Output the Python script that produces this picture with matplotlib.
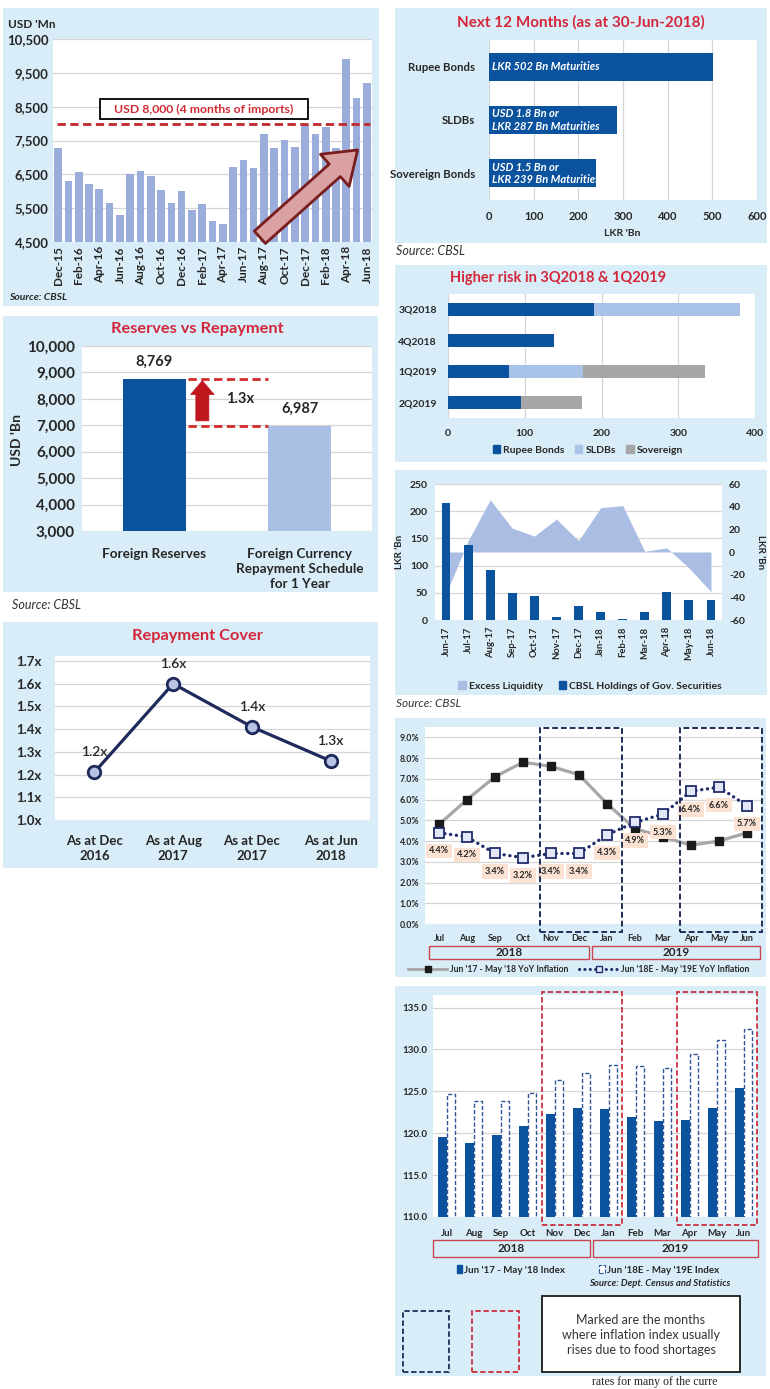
import matplotlib
matplotlib.use("Agg")
import matplotlib.pyplot as plt
import numpy as np
from matplotlib.patches import Rectangle, Patch
from matplotlib.lines import Line2D
from matplotlib.transforms import Bbox, TransformedBbox, blended_transform_factory

plt.rcParams["font.family"] = ["Lato", "DejaVu Sans"]

# ── Data ──────────────────────────────────────────────────────────────────────
res_months = ["Dec-15", "Jan-16", "Feb-16", "Mar-16", "Apr-16", "May-16", "Jun-16",
              "Jul-16", "Aug-16", "Sep-16", "Oct-16", "Nov-16", "Dec-16", "Jan-17",
              "Feb-17", "Mar-17", "Apr-17", "May-17", "Jun-17", "Jul-17", "Aug-17",
              "Sep-17", "Oct-17", "Nov-17", "Dec-17", "Jan-18", "Feb-18", "Mar-18",
              "Apr-18", "May-18", "Jun-18"]
res_values = [7290, 6290, 6570, 6220, 6060, 5640, 5290, 6500, 6600, 6450, 6050,
              5660, 6020, 5440, 5610, 5120, 5040, 6730, 6930, 6700, 7700, 7280,
              7510, 7310, 7960, 7680, 7900, 7290, 9910, 8770, 9190]
import_cover = 8000

mat_labels = ["Rupee Bonds", "SLDBs", "Sovereign Bonds"]
mat_values = [502, 287, 239]
mat_notes = ["LKR 502 Bn Maturities",
             "USD 1.8 Bn or\nLKR 287 Bn Maturities",
             "USD 1.5 Bn or\nLKR 239 Bn Maturities"]

qtr_labels = ["3Q2018", "4Q2018", "1Q2019", "2Q2019"]
qtr_rupee = [190, 138, 79, 95]
qtr_sldb = [190, 0, 97, 0]
qtr_sov = [0, 0, 159, 80]

liq_months = ["Jun-17", "Jul-17", "Aug-17", "Sep-17", "Oct-17", "Nov-17", "Dec-17",
              "Jan-18", "Feb-18", "Mar-18", "Apr-18", "May-18", "Jun-18"]
cbsl_holdings = [215, 137, 91, 50, 45, 6, 26, 15, 2.5, 15, 51, 36, 37]
excess_liq = [-37, 10, 46, 21, 14, 29, 10, 39, 41, 0.6, 3.6, -14, -35]

infl_months = ["Jul", "Aug", "Sep", "Oct", "Nov", "Dec", "Jan", "Feb", "Mar", "Apr", "May", "Jun"]
infl_actual = [4.8, 6.0, 7.1, 7.8, 7.6, 7.2, 5.8, 4.6, 4.2, 3.8, 4.0, 4.4]
infl_forecast = [4.4, 4.2, 3.4, 3.2, 3.4, 3.4, 4.3, 4.9, 5.3, 6.4, 6.6, 5.7]
index_actual = [119.5, 118.8, 119.8, 120.9, 122.3, 123.0, 122.9, 121.9, 121.5, 121.6, 123.0, 125.4]
index_forecast = [124.7, 123.9, 123.9, 124.8, 126.4, 127.2, 128.2, 128.0, 127.8, 129.4, 131.1, 132.5]
year_labels = ["2018", "2019"]
marked_groups = [(4, 6), (9, 11)]

rvr_labels = ["Foreign Reserves", "Foreign Currency\nRepayment Schedule\nfor 1 Year"]
rvr_values = [8769, 6987]

cover_labels = ["As at Dec\n2016", "As at Aug\n2017", "As at Dec\n2017", "As at Jun\n2018"]
cover_values = [1.21, 1.60, 1.41, 1.26]
cover_text = ["1.2x", "1.6x", "1.4x", "1.3x"]

# ── Style ─────────────────────────────────────────────────────────────────────
W, H = 770, 1389
BG = "#d9edf8"
TITLE_RED = "#d3263a"
NAVY = "#0b539e"
TXT = "#262626"
GRID = "#d6d6d6"
DOTS = (0, (0.05, 1.7))

fig = plt.figure(figsize=(W / 100, H / 100), dpi=100)
fig.patch.set_facecolor("white")


def px_axes(x0, y0, x1, y1):
    return fig.add_axes([x0 / W, 1 - y1 / H, (x1 - x0) / W, (y1 - y0) / H])


def panel(x0, y0, x1, y1, fc=BG, ec="none", lw=0, ls="-", z=-1):
    r = Rectangle((x0 / W, 1 - y1 / H), (x1 - x0) / W, (y1 - y0) / H,
                  transform=fig.transFigure, fc=fc, ec=ec, lw=lw, ls=ls, zorder=z)
    fig.add_artist(r)
    return r


def ftext(x, y, s, **kw):
    kw.setdefault("color", TXT)
    return fig.text(x / W, 1 - y / H, s, **kw)


def style(ax, grid_axis="y"):
    for s in ax.spines.values():
        s.set_visible(False)
    ax.set_axisbelow(True)
    ax.grid(True, axis=grid_axis, color=GRID, lw=0.9)
    ax.tick_params(length=0, colors=TXT)


def year_boxes(spans, y0, y1):
    for (x0, x1), yr in zip(spans, year_labels):
        panel(x0, y0, x1, y1, fc=BG, ec="#c8464f", lw=1.0, z=1)
        ftext((x0 + x1) / 2, (y0 + y1) / 2 + 0.5, yr, ha="center", va="center",
              fontsize=8.5, fontweight="bold")


# panel backgrounds
panel(3, 8, 379, 306)
panel(395, 8, 767, 243)
panel(395, 265, 767, 462)
panel(395, 470, 767, 695)
panel(395, 718, 766, 977)
panel(395, 986, 766, 1376)
panel(3, 316, 378, 592)
panel(3, 622, 378, 868)

# ── 1. Reserves (USD Mn) ──────────────────────────────────────────────────────
ax1 = px_axes(53, 39, 372, 242)
x1 = np.arange(len(res_months))
ax1.bar(x1, res_values, width=0.74, color="#9aaddb", zorder=2)
ax1.set_xlim(-0.5, len(res_months) - 0.5)
ax1.set_ylim(4500, 10500)
yt = list(range(4500, 10501, 1000))
ax1.set_yticks(yt)
ax1.set_yticklabels([f"{v:,}" for v in yt], fontsize=9.5, fontweight="bold")
ax1.set_xticks(x1[::2])
ax1.set_xticklabels(res_months[::2], rotation=90, fontsize=8.5, fontweight="bold")
style(ax1)
ax1.tick_params(axis="y", pad=3)
ax1.tick_params(axis="x", pad=3)
ax1.plot([-0.1, len(res_months) - 0.7], [import_cover] * 2, color="#c0282d",
         lw=2.0, dashes=(3, 1.6), zorder=3)
ax1.add_patch(Rectangle((4.07, 8135), 20.2, 590, fc="white", ec="black", lw=1.3, zorder=4))
ax1.text(14.17, 8430, f"USD {import_cover:,} (4 months of imports)", ha="center", va="center",
         color="#cf2a33", fontsize=8.8, fontweight="bold", zorder=5)
ax1.annotate("", xy=(29.1, 7220), xytext=(19.6, 4640),
             arrowprops=dict(arrowstyle="simple,head_length=1.1,head_width=1.55,tail_width=0.6",
                             mutation_scale=20, fc="#d9a1a1", ec="#7a1d1d", lw=2,
                             shrinkA=0, shrinkB=0), zorder=6, annotation_clip=False)
ftext(8, 25, "USD 'Mn", ha="left", va="center", fontsize=8.5, fontweight="bold")
ftext(9, 298, "Source: CBSL", ha="left", va="center", fontsize=7.5,
      fontweight="bold", style="italic")

# ── 2. Next 12 months ─────────────────────────────────────────────────────────
ax2 = px_axes(489, 40, 757, 200)
y2 = np.arange(len(mat_labels))
bars2 = ax2.barh(y2, mat_values, height=0.52, color=NAVY, zorder=2)
ax2.set_xlim(0, 600)
ax2.set_ylim(len(mat_labels) - 0.5, -0.5)
ax2.set_xticks(range(0, 601, 100))
ax2.set_xticklabels([str(v) for v in range(0, 601, 100)], fontsize=8, fontweight="bold")
ax2.set_yticks(y2)
ax2.set_yticklabels(mat_labels, fontsize=8.2, fontweight="bold")
style(ax2, "x")
ax2.tick_params(axis="y", pad=10)
ax2.tick_params(axis="x", pad=8)
for bar, note in zip(bars2, mat_notes):
    b = bar.get_bbox()
    t = ax2.text(b.x0 + 6, (b.y0 + b.y1) / 2, note, color="white", fontsize=8,
                 fontweight="bold", style="italic", va="center", ha="left",
                 linespacing=1.15, zorder=3)
    t.set_clip_on(True)
    t.set_clip_box(TransformedBbox(Bbox.from_extents(b.x0, b.y0, b.x1, b.y1), ax2.transData))
ftext(581, 22, "Next 12 Months (as at 30-Jun-2018)", ha="center", va="center",
      fontsize=11, fontweight="bold", color=TITLE_RED)
ftext(622, 233, "LKR 'Bn", ha="center", va="center", fontsize=7.5, fontweight="bold")
ftext(396, 251, "Source: CBSL", ha="left", va="center", fontsize=9, style="italic", color="#333333")

# ── 3. Higher risk by quarter ─────────────────────────────────────────────────
ax3 = px_axes(448, 294, 755, 418)
y3 = np.arange(len(qtr_labels))
left = np.zeros(len(qtr_labels))
q_series = [("Rupee Bonds", qtr_rupee, NAVY), ("SLDBs", qtr_sldb, "#a9c3e8"),
            ("Sovereign", qtr_sov, "#a6a6a6")]
for name, vals, col in q_series:
    ax3.barh(y3, vals, left=left, height=0.39, color=col, zorder=2)
    left += np.array(vals)
ax3.set_xlim(0, 400)
ax3.set_ylim(len(qtr_labels) - 0.5, -0.5)
ax3.set_xticks(range(0, 401, 100))
ax3.set_xticklabels([str(v) for v in range(0, 401, 100)], fontsize=7.5, fontweight="bold")
ax3.set_yticks(y3)
ax3.set_yticklabels(qtr_labels, fontsize=7.5, fontweight="bold")
style(ax3, "x")
ax3.tick_params(axis="y", pad=8)
ax3.tick_params(axis="x", pad=8)
fig.legend([Patch(color=c) for _, _, c in q_series], [n for n, _, _ in q_series],
           loc="center", bbox_to_anchor=(588 / W, 1 - 450 / H), ncol=3, frameon=False,
           prop={"size": 7.5, "weight": "bold"}, handlelength=0.7, handleheight=0.7,
           handletextpad=0.3, columnspacing=1.0, labelcolor=TXT)
ftext(450, 278, "Higher risk in 3Q2018 & 1Q2019", ha="left", va="center",
      fontsize=10.5, fontweight="bold", color=TITLE_RED)

# ── 4. Excess liquidity vs CBSL holdings ──────────────────────────────────────
ax4 = px_axes(435, 484, 722, 620)
ax4b = ax4.twinx()
x4 = np.arange(len(liq_months))
ax4b.fill_between(x4, 0, excess_liq, color="#aabde3", lw=0, zorder=2)
ax4.bar(x4, cbsl_holdings, width=0.4, color=NAVY, zorder=3)
ax4.set_xlim(-0.5, len(liq_months) - 0.5)
ax4.set_ylim(0, 250)
ax4b.set_ylim(-60, 60)
ax4.set_yticks(range(0, 251, 50))
ax4.set_yticklabels([str(v) for v in range(0, 251, 50)], fontsize=7.5, fontweight="bold")
ax4b.set_yticks(range(-60, 61, 20))
ax4b.set_yticklabels([str(v) for v in range(-60, 61, 20)], fontsize=7.5, fontweight="bold")
ax4.set_xticks(x4)
ax4.set_xticklabels(liq_months, rotation=90, fontsize=6.8, fontweight="bold")
for a in (ax4, ax4b):
    for s in a.spines.values():
        s.set_visible(False)
    a.tick_params(length=0, colors=TXT, pad=5)
for v in range(0, 251, 50):
    ax4b.axhline(v * 120 / 250 - 60, color=GRID, lw=0.9, zorder=0)
ax4.set_zorder(ax4b.get_zorder() + 1)
ax4.patch.set_visible(False)
ax4b.patch.set_visible(True)
ax4b.patch.set_facecolor("white")
ftext(400, 552, "LKR 'Bn", rotation=90, ha="center", va="center", fontsize=7, fontweight="bold")
ftext(761, 552, "LKR 'Bn", rotation=270, ha="center", va="center", fontsize=7, fontweight="bold")
fig.legend([Patch(color="#aabde3"), Patch(color=NAVY)],
           ["Excess Liquidity", "CBSL Holdings of Gov. Securities"],
           loc="center", bbox_to_anchor=(590 / W, 1 - 686 / H), ncol=2, frameon=False,
           prop={"size": 7.5, "weight": "bold"}, handlelength=0.7, handleheight=0.7,
           handletextpad=0.3, columnspacing=1.5, labelcolor=TXT)
ftext(396, 703, "Source: CBSL", ha="left", va="center", fontsize=8.5, style="italic", color="#333333")

# ── 5. YoY inflation ──────────────────────────────────────────────────────────
ax5 = px_axes(425, 727, 761, 924)
x5 = np.arange(len(infl_months))
ax5.plot(x5, infl_actual, color="#a6a6a6", lw=2.3, marker="s", ms=5.5,
         mfc="#1a1a1a", mec="#1a1a1a", zorder=3)
ax5.plot(x5, infl_forecast, color="#1f2d6b", lw=2.4, ls=DOTS,
         dash_capstyle="round", marker="s", ms=6.5, mfc="#e3e6f5", mec="#1f2d6b",
         mew=1.3, zorder=4)
for xi, v in zip(x5, infl_forecast):
    ax5.annotate(f"{v:.1f}%", (xi, v), xytext=(0, -13), textcoords="offset points",
                 ha="center", va="center", fontsize=6.5, fontweight="bold", color=TXT,
                 bbox=dict(boxstyle="square,pad=0.3", fc="#fbe2d2", ec="none"), zorder=5)
ax5.set_xlim(-0.5, len(infl_months) - 0.5)
ax5.set_ylim(0, 9.5)
ax5.set_yticks(range(0, 10))
ax5.set_yticklabels([f"{v:.1f}%" for v in range(0, 10)], fontsize=6.3, fontweight="bold")
ax5.set_xticks(x5)
ax5.set_xticklabels(infl_months, fontsize=6.5, fontweight="bold")
style(ax5)
ax5.tick_params(axis="x", pad=7)
ax5.tick_params(axis="y", pad=4)
bt5 = blended_transform_factory(ax5.transData, ax5.transAxes)
for a, b in marked_groups:
    ax5.add_patch(Rectangle((a - 0.4, -0.04), (b - a) + 0.92, 1.035, transform=bt5,
                            fill=False, ec="#1f2d5a", lw=1.4, ls=(0, (3, 1.5)),
                            clip_on=False, zorder=6))
year_boxes([(429, 589), (592, 760)], 946, 959)
leg5 = [Line2D([0], [0], color="#a6a6a6", lw=2, marker="s", ms=4, mfc="#1a1a1a", mec="#1a1a1a"),
        Line2D([0], [0], color="#1f2d6b", lw=2.2, ls=DOTS, dash_capstyle="round",
               marker="s", ms=5, mfc="#e3e6f5", mec="#1f2d6b")]
fig.legend(leg5, ["Jun '17 - May '18 YoY Inflation", "Jun '18E - May '19E YoY Inflation"],
           loc="center", bbox_to_anchor=(579 / W, 1 - 970 / H), ncol=2, frameon=False,
           prop={"size": 6.2, "weight": "bold"}, handlelength=4.5, handletextpad=0.4,
           columnspacing=1.2, labelcolor=TXT)

# ── 6. Inflation index ────────────────────────────────────────────────────────
ax6 = px_axes(433, 995, 757, 1217)
x6 = np.arange(len(infl_months))
ax6.bar(x6 - 0.15, index_actual, width=0.3, color=NAVY, zorder=2)
ax6.bar(x6 + 0.17, index_forecast, width=0.3, fc="white", ec="#2f5597", lw=1.0,
        ls=(0, (3, 1.5)), zorder=2)
ax6.set_xlim(-0.5, len(infl_months) - 0.5)
ax6.set_ylim(110, 136.5)
it = [110, 115, 120, 125, 130, 135]
ax6.set_yticks(it)
ax6.set_yticklabels([f"{v:.1f}" for v in it], fontsize=7, fontweight="bold")
ax6.set_xticks(x6)
ax6.set_xticklabels(infl_months, fontsize=7, fontweight="bold")
style(ax6)
ax6.tick_params(axis="x", pad=9)
ax6.tick_params(axis="y", pad=4)
bt6 = blended_transform_factory(ax6.transData, ax6.transAxes)
for a, b in marked_groups:
    ax6.add_patch(Rectangle((a - 0.48, -0.035), (b - a) + 0.98, 1.05, transform=bt6,
                            fill=False, ec="#c8313d", lw=1.3, ls=(0, (3, 1.5)),
                            clip_on=False, zorder=6))
year_boxes([(433, 590), (593, 758)], 1240, 1257)
fig.legend([Patch(color=NAVY), Patch(fc="white", ec="#2f5597", ls="--", lw=0.8)],
           ["Jun '17 - May '18 Index", "Jun '18E - May '19E Index"],
           loc="center", bbox_to_anchor=(588 / W, 1 - 1270 / H), ncol=2, frameon=False,
           prop={"size": 7, "weight": "bold"}, handlelength=0.6, handleheight=0.8,
           handletextpad=0.2, columnspacing=3.5, labelcolor=TXT)
ftext(660, 1284, "Source: Dept. Census and Statistics", ha="center", va="center",
      fontsize=6.8, fontweight="bold", style="italic")

# legend of marked boxes
panel(403, 1311, 449, 1372, fc="none", ec="#1f2d5a", lw=1.3, ls=(0, (3, 1.5)), z=1)
panel(472, 1311, 519, 1372, fc="none", ec="#c8313d", lw=1.3, ls=(0, (3, 1.5)), z=1)
panel(542, 1296, 740, 1372, fc="white", ec="#1a1a1a", lw=1.3, z=1)
ftext(641, 1335, "Marked are the months\nwhere inflation index usually\nrises due to food shortages",
      ha="center", va="center", fontsize=9, linespacing=1.35, color="#333333")
ftext(592, 1388, "rates for many of the curre", ha="left", va="bottom",
      fontsize=8.5, family="Liberation Serif", color="#222222")

# ── 7. Reserves vs repayment ──────────────────────────────────────────────────
ax7 = px_axes(82, 346, 372, 531)
x7 = np.arange(len(rvr_labels))
ax7.bar(x7, rvr_values, width=0.43, color=[NAVY, "#a9c0e4"], zorder=2)
ax7.set_xlim(-0.5, len(rvr_labels) - 0.5)
ax7.set_ylim(3000, 10000)
rt = list(range(3000, 10001, 1000))
ax7.set_yticks(rt)
ax7.set_yticklabels([f"{v:,}" for v in rt], fontsize=11, fontweight="bold")
ax7.set_xticks(x7)
ax7.set_xticklabels(rvr_labels, fontsize=9.7, fontweight="bold", linespacing=1.3, va="top")
style(ax7)
ax7.tick_params(axis="x", pad=12)
ax7.tick_params(axis="y", pad=5)
for xi, v in zip(x7, rvr_values):
    ax7.annotate(f"{v:,}", (xi, v), xytext=(0, 12), textcoords="offset points",
                 ha="center", va="center", fontsize=10.5, fontweight="bold", color=TXT)
for v in rvr_values:
    ax7.plot([0.23, 0.78], [v, v], color="#d42b2b", lw=2, dashes=(3, 1.6), zorder=3)
ax7.annotate("", xy=(0.33, rvr_values[0] - 80), xytext=(0.33, rvr_values[1] + 180),
             arrowprops=dict(arrowstyle="simple,head_length=0.5,head_width=0.85,tail_width=0.47",
                             mutation_scale=20, fc="#c0171f", ec="#c0171f", lw=0.5,
                             shrinkA=0, shrinkB=0), zorder=4)
ax7.text(0.59, 7980, f"{rvr_values[0] / rvr_values[1]:.1f}x", ha="center", va="center",
         fontsize=10.5, fontweight="bold", color=TXT)
ftext(17, 440, "USD 'Bn", rotation=90, ha="center", va="center", fontsize=10, fontweight="bold")
ftext(197, 329, "Reserves vs Repayment", ha="center", va="center", fontsize=11.8,
      fontweight="bold", color=TITLE_RED)
ftext(12, 605, "Source: CBSL", ha="left", va="center", fontsize=9, style="italic", color="#333333")

# ── 8. Repayment cover ────────────────────────────────────────────────────────
ax8 = px_axes(55, 656, 370, 820)
x8 = np.arange(len(cover_labels))
ax8.plot(x8, cover_values, color="#1f2a5c", lw=2.3, marker="o", ms=9,
         mfc="#b9c3e3", mec="#1f2a5c", mew=2, zorder=3)
for xi, v, s in zip(x8, cover_values, cover_text):
    ax8.annotate(s, (xi, v), xytext=(0, 14.5), textcoords="offset points",
                 ha="center", va="center", fontsize=10, fontweight="semibold", color=TXT)
ax8.set_xlim(-0.5, len(cover_labels) - 0.5)
ax8.set_ylim(1.0, 1.722)
ct = [1.0, 1.1, 1.2, 1.3, 1.4, 1.5, 1.6, 1.7]
ax8.set_yticks(ct)
ax8.set_yticklabels([f"{v:.1f}x" for v in ct], fontsize=9.5, fontweight="bold")
ax8.set_xticks(x8)
ax8.set_xticklabels(cover_labels, fontsize=9.5, fontweight="bold", linespacing=1.3)
style(ax8)
ax8.tick_params(axis="x", pad=11)
ax8.tick_params(axis="y", pad=10)
ftext(197, 636, "Repayment Cover", ha="center", va="center", fontsize=11.8,
      fontweight="bold", color=TITLE_RED)

fig.savefig("out.png", dpi=100, facecolor="white")
